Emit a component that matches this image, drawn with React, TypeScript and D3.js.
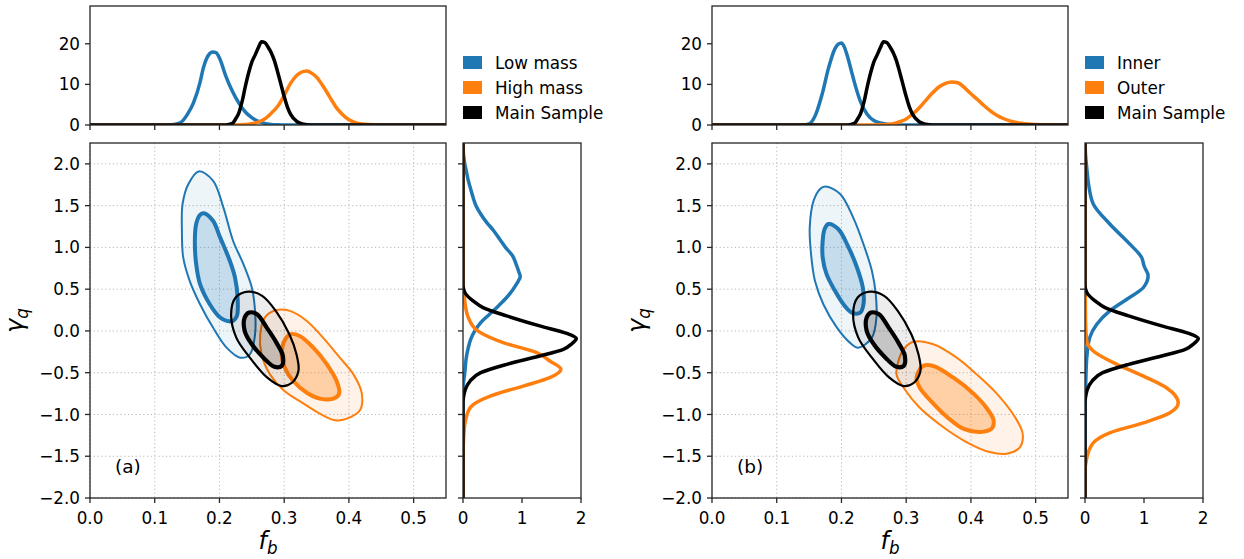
import React from "react";
import * as d3 from "d3";

type Pt = [number, number];

// ---------- axis ticks and domains ----------
const FB_TICKS = [0, 0.1, 0.2, 0.3, 0.4, 0.5];
const GAMMA_TICKS = [-2, -1.5, -1, -0.5, 0, 0.5, 1, 1.5, 2];
const TOP_TICKS = [0, 10, 20];
const SIDE_TICKS = [0, 1, 2];

const FB_DOMAIN: Pt = [0, 0.55];
const GAMMA_DOMAIN: Pt = [-2, 2.25];
const TOP_DOMAIN: Pt = [0, 29.3];
const SIDE_DOMAIN: Pt = [0, 2];

// ---------- legend text ----------
const LEGEND_A = ["Low mass", "High mass", "Main Sample"];
const LEGEND_B = ["Inner", "Outer", "Main Sample"];
const TAGS = ["(a)", "(b)"];

// ---------- marginal densities of f_b : [f_b, density] ----------
const lowMassFb: Pt[] = [[0, 0], [0.12, 0], [0.13, 0.1], [0.14, 0.6], [0.15, 2.5], [0.16, 5.5], [0.17, 10.5], [0.175, 14], [0.18, 16.3], [0.185, 17.6], [0.19, 18.0], [0.195, 17.8], [0.2, 16.5], [0.21, 12], [0.22, 8.3], [0.23, 5.4], [0.24, 3.2], [0.25, 1.8], [0.26, 0.9], [0.27, 0.4], [0.28, 0.15], [0.29, 0.05], [0.3, 0], [0.55, 0]];
const highMassFb: Pt[] = [[0, 0], [0.22, 0], [0.24, 0.1], [0.25, 0.3], [0.26, 0.7], [0.27, 1.5], [0.28, 2.9], [0.29, 4.6], [0.3, 7.3], [0.31, 10.3], [0.32, 12.3], [0.33, 13.2], [0.335, 13.3], [0.34, 13.0], [0.35, 11.8], [0.36, 9.6], [0.37, 7.0], [0.38, 4.4], [0.39, 2.6], [0.4, 1.3], [0.41, 0.6], [0.42, 0.25], [0.43, 0.1], [0.45, 0], [0.55, 0]];
const innerFb: Pt[] = [[0, 0], [0.14, 0], [0.15, 0.3], [0.16, 2.5], [0.17, 7.5], [0.18, 14], [0.19, 18.8], [0.195, 19.9], [0.2, 20.2], [0.205, 19.0], [0.21, 16.5], [0.215, 13.5], [0.22, 10.5], [0.23, 5.5], [0.24, 2.6], [0.25, 1.1], [0.26, 0.5], [0.27, 0.2], [0.28, 0.05], [0.29, 0], [0.55, 0]];
const outerFb: Pt[] = [[0, 0], [0.25, 0], [0.27, 0.1], [0.28, 0.3], [0.29, 0.8], [0.3, 1.5], [0.31, 2.7], [0.32, 4.2], [0.33, 6.0], [0.34, 7.8], [0.35, 9.3], [0.36, 10.2], [0.37, 10.6], [0.38, 10.4], [0.39, 9.2], [0.4, 7.7], [0.41, 6.3], [0.42, 4.8], [0.43, 3.5], [0.44, 2.4], [0.45, 1.6], [0.46, 1.0], [0.47, 0.6], [0.48, 0.35], [0.5, 0.1], [0.52, 0], [0.55, 0]];
const mainSampleFb: Pt[] = [[0, 0], [0.21, 0], [0.22, 0.4], [0.225, 1.5], [0.23, 3.0], [0.235, 5.8], [0.24, 9.5], [0.245, 12.8], [0.25, 15.5], [0.255, 17.2], [0.26, 19.0], [0.265, 20.5], [0.27, 20.3], [0.275, 19.2], [0.28, 17.8], [0.285, 15.8], [0.29, 13.0], [0.295, 10.0], [0.3, 7.0], [0.305, 4.4], [0.31, 2.6], [0.32, 0.8], [0.33, 0.2], [0.34, 0], [0.55, 0]];

// ---------- marginal densities of gamma_q : [gamma_q, density] ----------
const lowMassGamma: Pt[] = [[-2, 0], [-0.7, 0], [-0.5, 0.03], [-0.3, 0.06], [-0.2, 0.09], [-0.1, 0.13], [0, 0.2], [0.1, 0.3], [0.2, 0.45], [0.3, 0.6], [0.4, 0.74], [0.5, 0.85], [0.6, 0.94], [0.65, 0.97], [0.7, 0.95], [0.8, 0.9], [0.9, 0.84], [1.0, 0.72], [1.1, 0.62], [1.2, 0.52], [1.3, 0.4], [1.4, 0.3], [1.5, 0.22], [1.6, 0.17], [1.7, 0.13], [1.8, 0.09], [1.9, 0.06], [2.0, 0.03], [2.1, 0.01], [2.25, 0]];
const highMassGamma: Pt[] = [[-2, 0], [-1.5, 0], [-1.3, 0.01], [-1.12, 0.03], [-0.92, 0.12], [-0.78, 0.46], [-0.66, 1.02], [-0.56, 1.47], [-0.46, 1.66], [-0.36, 1.47], [-0.26, 1.25], [-0.14, 0.68], [0, 0.25], [0.16, 0.09], [0.3, 0.04], [0.44, 0.02], [0.55, 0], [2.25, 0]];
const innerGamma: Pt[] = [[-2, 0], [-1.0, 0], [-0.7, 0.01], [-0.32, 0.03], [-0.08, 0.08], [0.08, 0.2], [0.24, 0.42], [0.38, 0.71], [0.52, 0.99], [0.66, 1.07], [0.78, 1.0], [0.88, 0.96], [1.04, 0.76], [1.28, 0.42], [1.52, 0.14], [1.76, 0.06], [1.95, 0.03], [2.1, 0.01], [2.25, 0]];
const outerGamma: Pt[] = [[-2, 0], [-1.7, 0], [-1.52, 0.03], [-1.34, 0.14], [-1.22, 0.42], [-1.1, 0.99], [-0.98, 1.44], [-0.86, 1.58], [-0.68, 1.38], [-0.54, 0.99], [-0.4, 0.54], [-0.24, 0.14], [-0.12, 0.03], [0.1, 0.01], [0.45, 0.005], [0.55, 0], [2.25, 0]];
const mainSampleGamma: Pt[] = [[-2, 0], [-0.85, 0], [-0.75, 0.02], [-0.7, 0.04], [-0.6, 0.12], [-0.5, 0.3], [-0.4, 0.74], [-0.3, 1.3], [-0.22, 1.7], [-0.15, 1.85], [-0.09, 1.92], [-0.03, 1.76], [0.06, 1.3], [0.18, 0.74], [0.28, 0.34], [0.36, 0.17], [0.45, 0.04], [0.5, 0.01], [0.55, 0], [2.25, 0]];

// ---------- credible-region contours : [f_b, gamma_q] ----------
const lowMassOuter: Pt[] = [[0.168, 1.91], [0.19, 1.8], [0.206, 1.48], [0.221, 1.08], [0.237, 0.8], [0.25, 0.52], [0.255, 0.24], [0.255, -0.04], [0.247, -0.28], [0.232, -0.32], [0.211, -0.2], [0.19, 0.04], [0.17, 0.32], [0.154, 0.6], [0.144, 0.88], [0.142, 1.2], [0.143, 1.52], [0.152, 1.76]];
const lowMassInner: Pt[] = [[0.176, 1.41], [0.19, 1.32], [0.201, 1.12], [0.216, 0.84], [0.224, 0.64], [0.228, 0.4], [0.227, 0.18], [0.221, 0.12], [0.211, 0.12], [0.201, 0.16], [0.185, 0.32], [0.17, 0.56], [0.164, 0.8], [0.162, 1.08], [0.164, 1.28], [0.17, 1.39]];
const highMassOuter: Pt[] = [[0.288, 0.25], [0.309, 0.24], [0.335, 0.12], [0.36, -0.08], [0.386, -0.32], [0.407, -0.52], [0.42, -0.75], [0.417, -0.95], [0.397, -1.05], [0.379, -1.07], [0.355, -0.99], [0.33, -0.87], [0.299, -0.71], [0.278, -0.52], [0.265, -0.28], [0.263, -0.04], [0.27, 0.16]];
const highMassInner: Pt[] = [[0.309, -0.04], [0.324, -0.06], [0.345, -0.2], [0.366, -0.4], [0.381, -0.6], [0.385, -0.75], [0.376, -0.81], [0.355, -0.81], [0.335, -0.74], [0.314, -0.6], [0.301, -0.44], [0.296, -0.28], [0.299, -0.14]];
const innerOuter: Pt[] = [[0.175, 1.73], [0.198, 1.64], [0.218, 1.36], [0.234, 1.04], [0.247, 0.72], [0.253, 0.44], [0.254, 0.16], [0.247, -0.08], [0.226, -0.2], [0.213, -0.14], [0.193, 0.04], [0.172, 0.32], [0.159, 0.6], [0.153, 0.92], [0.151, 1.24], [0.157, 1.56], [0.167, 1.7]];
const innerInner: Pt[] = [[0.18, 1.28], [0.195, 1.22], [0.211, 1.0], [0.224, 0.76], [0.233, 0.52], [0.234, 0.32], [0.229, 0.22], [0.216, 0.22], [0.203, 0.32], [0.19, 0.48], [0.177, 0.68], [0.171, 0.88], [0.171, 1.08], [0.174, 1.22]];
const outerOuter: Pt[] = [[0.311, -0.13], [0.342, -0.16], [0.378, -0.32], [0.409, -0.52], [0.44, -0.75], [0.468, -1.03], [0.48, -1.23], [0.476, -1.39], [0.455, -1.47], [0.429, -1.45], [0.393, -1.33], [0.357, -1.15], [0.321, -0.92], [0.296, -0.68], [0.285, -0.52], [0.288, -0.36], [0.296, -0.22]];
const outerInner: Pt[] = [[0.326, -0.42], [0.342, -0.42], [0.373, -0.56], [0.404, -0.75], [0.424, -0.92], [0.435, -1.07], [0.432, -1.17], [0.414, -1.21], [0.388, -1.17], [0.363, -1.03], [0.342, -0.87], [0.321, -0.68], [0.316, -0.56]];
const mainSampleOuter: Pt[] = [[0.244, 0.47], [0.266, 0.42], [0.287, 0.24], [0.308, -0.04], [0.319, -0.28], [0.322, -0.48], [0.312, -0.62], [0.296, -0.66], [0.274, -0.56], [0.247, -0.32], [0.226, -0.08], [0.218, 0.2], [0.225, 0.4]];
const mainSampleInner: Pt[] = [[0.246, 0.22], [0.258, 0.2], [0.273, 0.04], [0.288, -0.14], [0.298, -0.3], [0.296, -0.42], [0.285, -0.43], [0.268, -0.32], [0.25, -0.16], [0.239, 0.0], [0.239, 0.16]];

// ---------- styling ----------
const COLORS = ["#1f77b4", "#ff7f0e", "#000000"];
const OUTER_FILL_ALPHA = [0.075, 0.09, 0.07];
const INNER_FILL_ALPHA = [0.2, 0.31, 0.17];
const OUTER_WIDTH = [2.0, 2.0, 2.2];
const INNER_WIDTH = [4.0, 4.0, 4.2];
const MARGINAL_WIDTH = 3.5;

const FONT = "'DejaVu Sans', sans-serif";
const TICK_FS = 16.8;
const TAG_FS = 18.5;
const LABEL_FS = 24;
const SPINE = "#262626";

// layout
const MAIN_W = 356;
const MAIN_TOP = 143;
const MAIN_BOTTOM = 498;
const TOP_TOP = 6;
const TOP_BOTTOM = 125;
const SIDE_OFFSET = 373;
const SIDE_W = 118;
const TICK_LEN = 5;

type Series = { color: number; fb: Pt[]; gamma: Pt[]; outer: Pt[]; inner: Pt[] };

interface PanelProps {
  id: string;
  left: number;
  series: Series[];
  legend: string[];
  tag: string;
}

const fmt1 = d3.format(".1f");
const fmt0 = d3.format("d");

function Frame({ x0, y0, x1, y1 }: { x0: number; y0: number; x1: number; y1: number }) {
  return (
    <rect x={x0} y={y0} width={x1 - x0} height={y1 - y0} fill="none" stroke={SPINE} strokeWidth={1.3} />
  );
}

function Panel({ id, left, series, legend, tag }: PanelProps) {
  const x = d3.scaleLinear().domain(FB_DOMAIN).range([left, left + MAIN_W]);
  const y = d3.scaleLinear().domain(GAMMA_DOMAIN).range([MAIN_BOTTOM, MAIN_TOP]);
  const yTop = d3.scaleLinear().domain(TOP_DOMAIN).range([TOP_BOTTOM, TOP_TOP]);
  const sideLeft = left + SIDE_OFFSET;
  const xSide = d3.scaleLinear().domain(SIDE_DOMAIN).range([sideLeft, sideLeft + SIDE_W]);

  const topLine = d3.line<Pt>().x((d) => x(d[0])).y((d) => yTop(d[1])).curve(d3.curveMonotoneX);
  const sideLine = d3.line<Pt>().x((d) => xSide(d[1])).y((d) => y(d[0])).curve(d3.curveMonotoneY);
  const closed = d3.line<Pt>().x((d) => x(d[0])).y((d) => y(d[1])).curve(d3.curveCatmullRomClosed.alpha(0.5));

  const mainRight = left + MAIN_W;
  const sideRight = sideLeft + SIDE_W;

  return (
    <g>
      <defs>
        <clipPath id={`${id}-top`}>
          <rect x={left} y={TOP_TOP} width={MAIN_W} height={TOP_BOTTOM - TOP_TOP} />
        </clipPath>
        <clipPath id={`${id}-main`}>
          <rect x={left} y={MAIN_TOP} width={MAIN_W} height={MAIN_BOTTOM - MAIN_TOP} />
        </clipPath>
        <clipPath id={`${id}-side`}>
          <rect x={sideLeft} y={MAIN_TOP} width={SIDE_W} height={MAIN_BOTTOM - MAIN_TOP} />
        </clipPath>
      </defs>

      {/* top marginal: f_b */}
      <g clipPath={`url(#${id}-top)`}>
        {series.map((s, i) => (
          <path key={i} d={topLine(s.fb) ?? ""} fill="none" stroke={COLORS[s.color]} strokeWidth={MARGINAL_WIDTH} strokeLinejoin="round" />
        ))}
      </g>
      <Frame x0={left} y0={TOP_TOP} x1={mainRight} y1={TOP_BOTTOM} />
      {FB_TICKS.map((t) => (
        <line key={t} x1={x(t)} x2={x(t)} y1={TOP_BOTTOM} y2={TOP_BOTTOM + TICK_LEN} stroke={SPINE} strokeWidth={1.3} />
      ))}
      {TOP_TICKS.map((t) => (
        <g key={t}>
          <line x1={left - TICK_LEN} x2={left} y1={yTop(t)} y2={yTop(t)} stroke={SPINE} strokeWidth={1.3} />
          <text x={left - TICK_LEN - 5} y={yTop(t)} dy="0.36em" textAnchor="end" fontSize={TICK_FS} fontFamily={FONT} fill="#000">
            {fmt0(t)}
          </text>
        </g>
      ))}

      {/* main joint panel */}
      <g>
        {FB_TICKS.map((t) => (
          <line key={`gx${t}`} x1={x(t)} x2={x(t)} y1={MAIN_TOP} y2={MAIN_BOTTOM} stroke="#b8b8b8" strokeWidth={1} strokeDasharray="1.2,2.6" />
        ))}
        {GAMMA_TICKS.map((t) => (
          <line key={`gy${t}`} x1={left} x2={mainRight} y1={y(t)} y2={y(t)} stroke="#b8b8b8" strokeWidth={1} strokeDasharray="1.2,2.6" />
        ))}
      </g>
      <g clipPath={`url(#${id}-main)`}>
        {series.map((s, i) => (
          <g key={i}>
            <path d={closed(s.outer) ?? ""} fill={COLORS[s.color]} fillOpacity={OUTER_FILL_ALPHA[s.color]} stroke="none" />
            <path d={closed(s.inner) ?? ""} fill={COLORS[s.color]} fillOpacity={INNER_FILL_ALPHA[s.color]} stroke="none" />
            <path d={closed(s.outer) ?? ""} fill="none" stroke={COLORS[s.color]} strokeWidth={OUTER_WIDTH[s.color]} />
            <path d={closed(s.inner) ?? ""} fill="none" stroke={COLORS[s.color]} strokeWidth={INNER_WIDTH[s.color]} />
          </g>
        ))}
      </g>
      <Frame x0={left} y0={MAIN_TOP} x1={mainRight} y1={MAIN_BOTTOM} />
      {FB_TICKS.map((t) => (
        <g key={t}>
          <line x1={x(t)} x2={x(t)} y1={MAIN_BOTTOM} y2={MAIN_BOTTOM + TICK_LEN} stroke={SPINE} strokeWidth={1.3} />
          <text x={x(t)} y={MAIN_BOTTOM + 25.5} textAnchor="middle" fontSize={TICK_FS} fontFamily={FONT} fill="#000">
            {fmt1(t)}
          </text>
        </g>
      ))}
      {GAMMA_TICKS.map((t) => (
        <g key={t}>
          <line x1={left - TICK_LEN} x2={left} y1={y(t)} y2={y(t)} stroke={SPINE} strokeWidth={1.3} />
          <text x={left - TICK_LEN - 5} y={y(t)} dy="0.36em" textAnchor="end" fontSize={TICK_FS} fontFamily={FONT} fill="#000">
            {fmt1(t)}
          </text>
        </g>
      ))}
      <text x={left + 25} y={473} fontSize={TAG_FS} fontFamily={FONT} fill="#000">
        {tag}
      </text>

      {/* axis labels */}
      <text x={left + MAIN_W / 2} y={549} textAnchor="middle" fontSize={LABEL_FS} fontFamily={FONT} fontStyle="italic" fill="#000">
        f
        <tspan fontSize={LABEL_FS * 0.7} dy={5}>b</tspan>
      </text>
      <text
        transform={`translate(${left - 67},${(MAIN_TOP + MAIN_BOTTOM) / 2}) rotate(-90)`}
        textAnchor="middle"
        fontSize={LABEL_FS}
        fontFamily={FONT}
        fontStyle="italic"
        fill="#000"
      >
        γ
        <tspan fontSize={LABEL_FS * 0.7} dy={5}>q</tspan>
      </text>

      {/* side marginal: gamma_q */}
      <g clipPath={`url(#${id}-side)`}>
        {series.map((s, i) => (
          <path key={i} d={sideLine(s.gamma) ?? ""} fill="none" stroke={COLORS[s.color]} strokeWidth={MARGINAL_WIDTH} strokeLinejoin="round" />
        ))}
      </g>
      <Frame x0={sideLeft} y0={MAIN_TOP} x1={sideRight} y1={MAIN_BOTTOM} />
      {GAMMA_TICKS.map((t) => (
        <line key={t} x1={sideLeft - TICK_LEN} x2={sideLeft} y1={y(t)} y2={y(t)} stroke={SPINE} strokeWidth={1.3} />
      ))}
      {SIDE_TICKS.map((t) => (
        <g key={t}>
          <line x1={xSide(t)} x2={xSide(t)} y1={MAIN_BOTTOM} y2={MAIN_BOTTOM + TICK_LEN} stroke={SPINE} strokeWidth={1.3} />
          <text x={xSide(t)} y={MAIN_BOTTOM + 25.5} textAnchor="middle" fontSize={TICK_FS} fontFamily={FONT} fill="#000">
            {fmt0(t)}
          </text>
        </g>
      ))}

      {/* legend */}
      {legend.map((name, i) => (
        <g key={name} transform={`translate(${sideLeft},${56 + i * 25})`}>
          <rect x={0} y={0} width={19} height={13} fill={COLORS[series[i].color]} />
          <text x={32} y={6.5} dy="0.36em" fontSize={TICK_FS} fontFamily={FONT} fill="#000">
            {name}
          </text>
        </g>
      ))}
    </g>
  );
}

const panelA: Series[] = [
  { color: 0, fb: lowMassFb, gamma: lowMassGamma, outer: lowMassOuter, inner: lowMassInner },
  { color: 1, fb: highMassFb, gamma: highMassGamma, outer: highMassOuter, inner: highMassInner },
  { color: 2, fb: mainSampleFb, gamma: mainSampleGamma, outer: mainSampleOuter, inner: mainSampleInner },
];

const panelB: Series[] = [
  { color: 0, fb: innerFb, gamma: innerGamma, outer: innerOuter, inner: innerInner },
  { color: 1, fb: outerFb, gamma: outerGamma, outer: outerOuter, inner: outerInner },
  { color: 2, fb: mainSampleFb, gamma: mainSampleGamma, outer: mainSampleOuter, inner: mainSampleInner },
];

export default function App() {
  return (
    <svg
      width={1244}
      height={559}
      viewBox="0 0 1244 559"
      style={{ position: "absolute", left: 0, top: 0, background: "#fff" }}
    >
      <rect x={0} y={0} width={1244} height={559} fill="#fff" />
      <Panel id="pa" left={90} series={panelA} legend={LEGEND_A} tag={TAGS[0]} />
      <Panel id="pb" left={712} series={panelB} legend={LEGEND_B} tag={TAGS[1]} />
    </svg>
  );
}
